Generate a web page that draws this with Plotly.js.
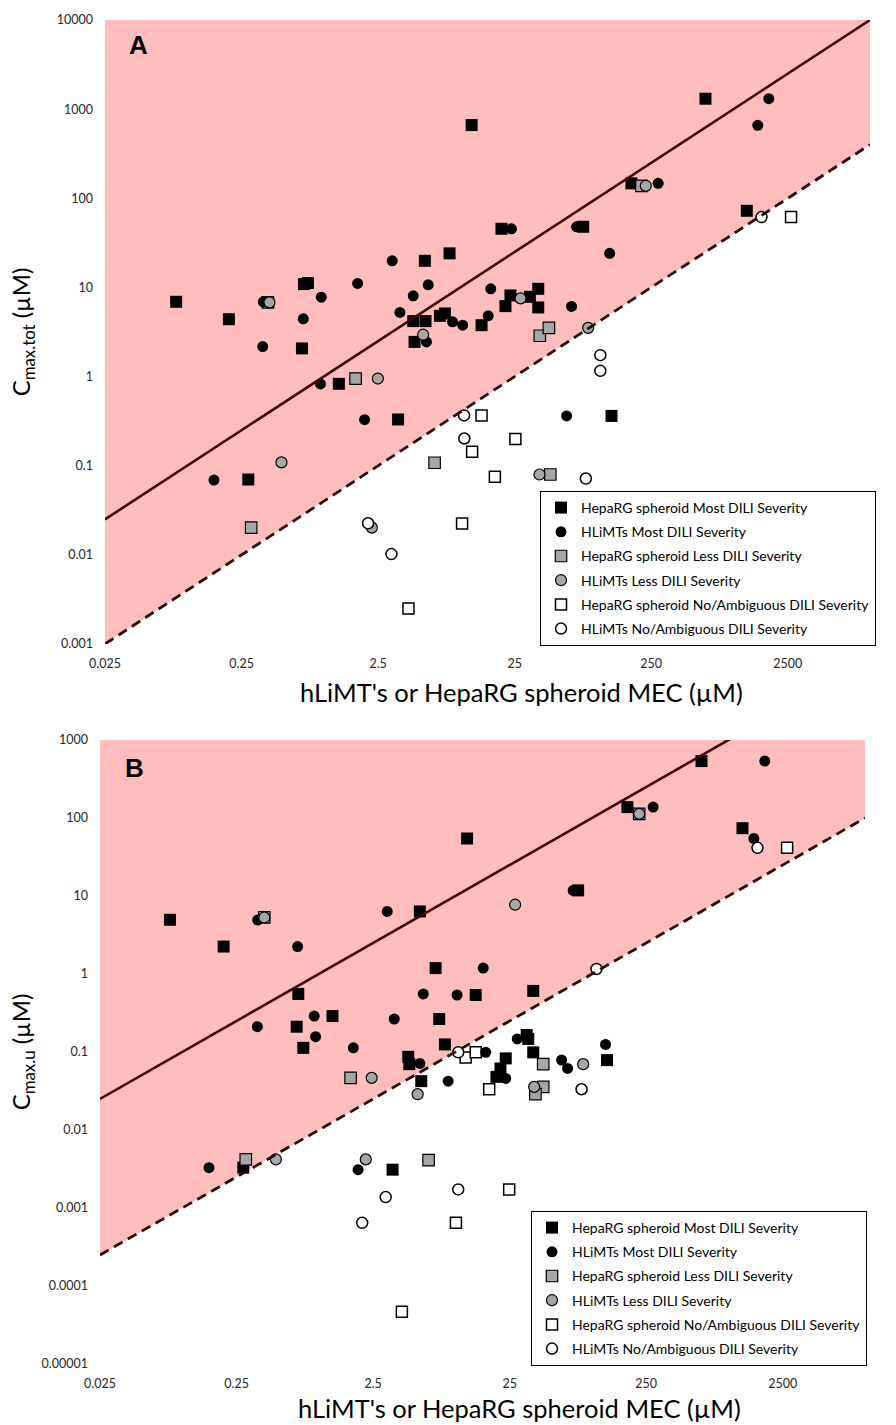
<!DOCTYPE html>
<html>
<head>
<meta charset="utf-8">
<script src="https://cdn.plot.ly/plotly-3.0.1.min.js"></script>
<style>html,body{margin:0;padding:0;background:#fff;}#chart{width:896px;height:1425px;}</style>
</head>
<body>
<div id="chart"></div>
<script>
// ---------- tick labels ----------
const xTickVals = [0.025, 0.25, 2.5, 25, 250, 2500];
const xTickText = ['0.025', '0.25', '2.5', '25', '250', '2500'];
const aYTickVals = [0.001, 0.01, 0.1, 1, 10, 100, 1000, 10000];
const aYTickText = ['0.001', '0.01', '0.1', '1', '10', '100', '1000', '10000'];
const bYTickVals = [0.00001, 0.0001, 0.001, 0.01, 0.1, 1, 10, 100, 1000];
const bYTickText = ['0.00001', '0.0001', '0.001', '0.01', '0.1', '1', '10', '100', '1000'];

// ---------- series names ----------
const seriesNames = [
  'HepaRG spheroid Most DILI Severity',
  'HLiMTs Most DILI Severity',
  'HepaRG spheroid Less DILI Severity',
  'HLiMTs Less DILI Severity',
  'HepaRG spheroid No/Ambiguous DILI Severity',
  'HLiMTs No/Ambiguous DILI Severity'
];

// ---------- axis limits / safety margins ----------
const xLimits = [0.025, 10000];
const aYTop = 10000;
const bYTop = 1000;
const aMarginRatio = 25;   // dashed line: Cmax.tot = MEC / 25
const bMarginRatio = 100;  // dashed line: Cmax.u = MEC / 100

// ---------- Panel A : Cmax.tot ----------
const aHepaMostX = [0.083, 0.202, 0.28, 0.716, 0.766, 0.692, 1.29, 3.50, 5.50, 8.34, 4.52, 5.56, 7.09, 7.71, 4.62, 14.3, 12.1, 20.0, 79.4, 23.3, 21.4, 32.3, 37.2, 37.2, 128, 179, 624, 1253];
const aHepaMostY = [6.9, 4.4, 0.07, 10.9, 11.2, 2.07, 0.83, 0.33, 19.9, 24.1, 4.19, 4.19, 4.8, 5.11, 2.45, 3.77, 663, 45.5, 47.9, 8.13, 6.17, 7.85, 9.65, 5.96, 0.362, 147, 1309, 72.4];
const aHlimtMostX = [0.157, 0.357, 0.361, 0.708, 0.959, 0.946, 1.77, 1.99, 3.17, 3.61, 4.52, 5.82, 5.65, 8.77, 10.4, 16.0, 16.7, 23.7, 71.0, 65.2, 124, 60.0, 281, 1507, 1815];
const aHlimtMostY = [0.069, 2.17, 6.9, 4.45, 7.78, 0.827, 11.1, 0.328, 19.9, 5.24, 8.05, 10.7, 2.45, 4.11, 3.77, 4.80, 9.65, 45.5, 47.9, 6.12, 24.1, 0.362, 147, 658, 1309];
const aHepaLessX = [0.294, 0.39, 1.71, 6.48, 38.2, 44.5, 45.6, 212];
const aHepaLessY = [0.0202, 6.8, 0.95, 0.108, 2.87, 3.52, 0.0797, 138];
const aHlimtLessX = [0.49, 0.40, 2.49, 2.25, 5.34, 27.6, 38.0, 86.3, 228];
const aHlimtLessY = [0.109, 6.8, 0.95, 0.0202, 2.95, 7.53, 0.0797, 3.52, 138];
const aHepaNoX = [4.17, 10.3, 14.3, 25.3, 12.2, 17.9, 2642];
const aHepaNoY = [0.0025, 0.0225, 0.367, 0.2, 0.143, 0.075, 61.5];
const aHlimtNoX = [10.65, 10.7, 2.11, 3.13, 106, 106, 83, 1605];
const aHlimtNoY = [0.367, 0.202, 0.0226, 0.0102, 1.74, 1.16, 0.0718, 61.5];

// ---------- Panel B : Cmax.u ----------
const bHepaMostX = [0.0813, 0.201, 0.28, 0.708, 0.689, 0.770, 1.26, 3.47, 5.50, 7.17, 7.62, 8.39, 4.52, 4.6, 5.63, 14.1, 12.2, 79.3, 37.2, 23.4, 21.4, 20.0, 33.3, 34.2, 37.2, 129, 182, 635, 1267];
const bHepaMostY = [4.96, 2.25, 0.00329, 0.555, 0.211, 0.113, 0.289, 0.0031, 6.34, 1.19, 0.265, 0.125, 0.0867, 0.0698, 0.0423, 0.538, 54.6, 11.8, 0.607, 0.0828, 0.0615, 0.048, 0.165, 0.147, 0.099, 0.0787, 138, 537, 74];
const bHlimtMostX = [0.157, 0.355, 0.357, 0.70, 0.926, 0.948, 1.79, 1.94, 3.17, 3.57, 5.5, 5.82, 8.86, 10.3, 16.0, 16.7, 23.4, 28.4, 72.9, 60.0, 66.4, 125.9, 281, 1535, 1845];
const bHlimtMostY = [0.00329, 0.211, 4.92, 2.25, 0.289, 0.157, 0.113, 0.0031, 6.34, 0.265, 0.0713, 0.555, 0.0423, 0.538, 1.19, 0.099, 0.0458, 0.147, 11.8, 0.0787, 0.0615, 0.125, 138, 54.6, 537];
const bHepaLessX = [0.292, 0.399, 1.71, 6.37, 44.0, 44.0, 38.6, 222];
const bHepaLessY = [0.0042, 5.31, 0.0466, 0.0041, 0.0698, 0.0357, 0.0288, 113];
const bHlimtLessX = [0.485, 0.399, 2.44, 2.21, 5.30, 27.4, 37.8, 86.3, 222];
const bHlimtLessY = [0.0042, 5.31, 0.0466, 0.0042, 0.0288, 7.73, 0.0357, 0.0698, 113];
const bHepaNoX = [4.06, 10.1, 11.9, 14.1, 17.7, 24.8, 2690];
const bHepaNoY = [0.0000468, 0.000645, 0.0853, 0.099, 0.0333, 0.00173, 41.4];
const bHlimtNoX = [10.5, 2.08, 3.09, 10.5, 108, 84, 1632];
const bHlimtNoY = [0.099, 0.000645, 0.00138, 0.00173, 1.16, 0.0333, 41.4];

// ---------- styles ----------
const FONT = 'Lato, "Open Sans", "Liberation Sans", sans-serif';
const PINK = '#ffbdbd';
const LINE_DARK = '#3f0404';
const markerStyles = [
  {symbol: 'square', size: 12, color: '#000000', line: {color: '#000000', width: 0}},
  {symbol: 'circle', size: 11, color: '#000000', line: {color: '#000000', width: 0}},
  {symbol: 'square', size: 11.5, color: '#a6a6a6', line: {color: '#000000', width: 1.2}},
  {symbol: 'circle', size: 11, color: '#a6a6a6', line: {color: '#000000', width: 1.2}},
  {symbol: 'square', size: 11, color: '#ffffff', line: {color: '#000000', width: 1.5}},
  {symbol: 'circle', size: 11, color: '#ffffff', line: {color: '#000000', width: 1.5}}
];
const markerZ = [1, 2, 1, 2, 1, 2];

const W = 896, H = 1425;
const px = v => v / W;
const py = v => 1 - v / H;

function guideTraces(xa, ya, ratio, yTop) {
  const x0 = xLimits[0], x1 = xLimits[1];
  return [
    {x: [x0, x1, x1, x0], y: [x0 / ratio, x1 / ratio, yTop, yTop], xaxis: xa, yaxis: ya,
     mode: 'lines', fill: 'toself', fillcolor: PINK, line: {width: 0, color: PINK},
     hoverinfo: 'skip', showlegend: false, zorder: 0},
    {x: [x0, x1], y: [x0, x1], xaxis: xa, yaxis: ya, mode: 'lines',
     line: {color: LINE_DARK, width: 2.6}, hoverinfo: 'skip', showlegend: false, zorder: 3},
    {x: [x0, x1], y: [x0 / ratio, x1 / ratio], xaxis: xa, yaxis: ya, mode: 'lines',
     line: {color: '#2b0a0a', width: 2.8, dash: '10px,6px'}, hoverinfo: 'skip', showlegend: false, zorder: 3}
  ];
}

function markerTraces(xa, ya, legendId, sets) {
  return sets.map((s, i) => ({
    x: s[0], y: s[1], xaxis: xa, yaxis: ya, mode: 'markers', type: 'scatter',
    name: seriesNames[i], legend: legendId, legendgroup: legendId + 'g' + i,
    marker: markerStyles[i], zorder: markerZ[i], cliponaxis: false
  }));
}

const traces = [].concat(
  guideTraces('x', 'y', aMarginRatio, aYTop),
  markerTraces('x', 'y', 'legend', [
    [aHepaMostX, aHepaMostY], [aHlimtMostX, aHlimtMostY], [aHepaLessX, aHepaLessY],
    [aHlimtLessX, aHlimtLessY], [aHepaNoX, aHepaNoY], [aHlimtNoX, aHlimtNoY]]),
  guideTraces('x2', 'y2', bMarginRatio, bYTop),
  markerTraces('x2', 'y2', 'legend2', [
    [bHepaMostX, bHepaMostY], [bHlimtMostX, bHlimtMostY], [bHepaLessX, bHepaLessY],
    [bHlimtLessX, bHlimtLessY], [bHepaNoX, bHepaNoY], [bHlimtNoX, bHlimtNoY]])
);

const tickFont = {family: FONT, size: 12.5, color: '#262626'};
function xAxis(domain, anchor) {
  return {type: 'log', range: [Math.log10(xLimits[0]), Math.log10(xLimits[1])], domain: domain,
    anchor: anchor, tickmode: 'array', tickvals: xTickVals, ticktext: xTickText,
    showgrid: false, zeroline: false, showline: true, linecolor: '#d4d4d4', linewidth: 1.5,
    ticks: '', tickfont: tickFont, ticklabelstandoff: 7, automargin: false};
}
function yAxis(domain, anchor, range, vals, text, title, standoff) {
  return {type: 'log', range: range, domain: domain, anchor: anchor, tickmode: 'array',
    tickvals: vals, ticktext: text, showgrid: false, zeroline: false, showline: true,
    linecolor: '#d4d4d4', linewidth: 1.5, ticks: '', tickfont: tickFont, ticklabelstandoff: 8,
    automargin: false,
    title: {text: title, font: {family: FONT, size: 24, color: '#000'}, standoff: standoff}};
}

const legendFont = {family: FONT, size: 14, color: '#000'};
const layout = {
  width: W, height: H, margin: {l: 0, r: 0, t: 0, b: 0},
  paper_bgcolor: '#fff', plot_bgcolor: '#fff', font: {family: FONT},
  xaxis: xAxis([px(105), px(870)], 'y'),
  yaxis: yAxis([py(644), py(20)], 'x', [-3, 4], aYTickVals, aYTickText, 'C<sub>max.tot</sub> (µM)', 19),
  xaxis2: xAxis([px(100), px(865)], 'y2'),
  yaxis2: yAxis([py(1364), py(740)], 'x2', [-5, 3], bYTickVals, bYTickText, 'C<sub>max.u</sub> (µM)', 4),
  legend: {x: px(540), y: py(491), xanchor: 'left', yanchor: 'top', bgcolor: '#fff',
    bordercolor: '#000', borderwidth: 1, traceorder: 'grouped', tracegroupgap: 3,
    font: legendFont},
  legend2: {x: px(531), y: py(1211), xanchor: 'left', yanchor: 'top', bgcolor: '#fff',
    bordercolor: '#000', borderwidth: 1, traceorder: 'grouped', tracegroupgap: 3,
    font: legendFont},
  annotations: [
    {text: 'A', x: px(138), y: py(45), xref: 'paper', yref: 'paper', xanchor: 'center', yanchor: 'middle',
     showarrow: false, font: {family: '"Liberation Sans", Arial, sans-serif', size: 26, color: '#000', weight: 'bold'}},
    {text: 'B', x: px(134), y: py(768), xref: 'paper', yref: 'paper', xanchor: 'center', yanchor: 'middle',
     showarrow: false, font: {family: '"Liberation Sans", Arial, sans-serif', size: 26, color: '#000', weight: 'bold'}},
    {text: "hLiMT's or HepaRG spheroid MEC (µM)", x: px(521), y: py(692), xref: 'paper', yref: 'paper',
     xanchor: 'center', yanchor: 'middle', showarrow: false, font: {family: FONT, size: 25.5, color: '#000'}},
    {text: "hLiMT's or HepaRG spheroid MEC (µM)", x: px(519), y: py(1408), xref: 'paper', yref: 'paper',
     xanchor: 'center', yanchor: 'middle', showarrow: false, font: {family: FONT, size: 25.5, color: '#000'}}
  ],
  showlegend: true
};

Plotly.newPlot('chart', traces, layout, {staticPlot: true, displayModeBar: false});
</script>
</body>
</html>
